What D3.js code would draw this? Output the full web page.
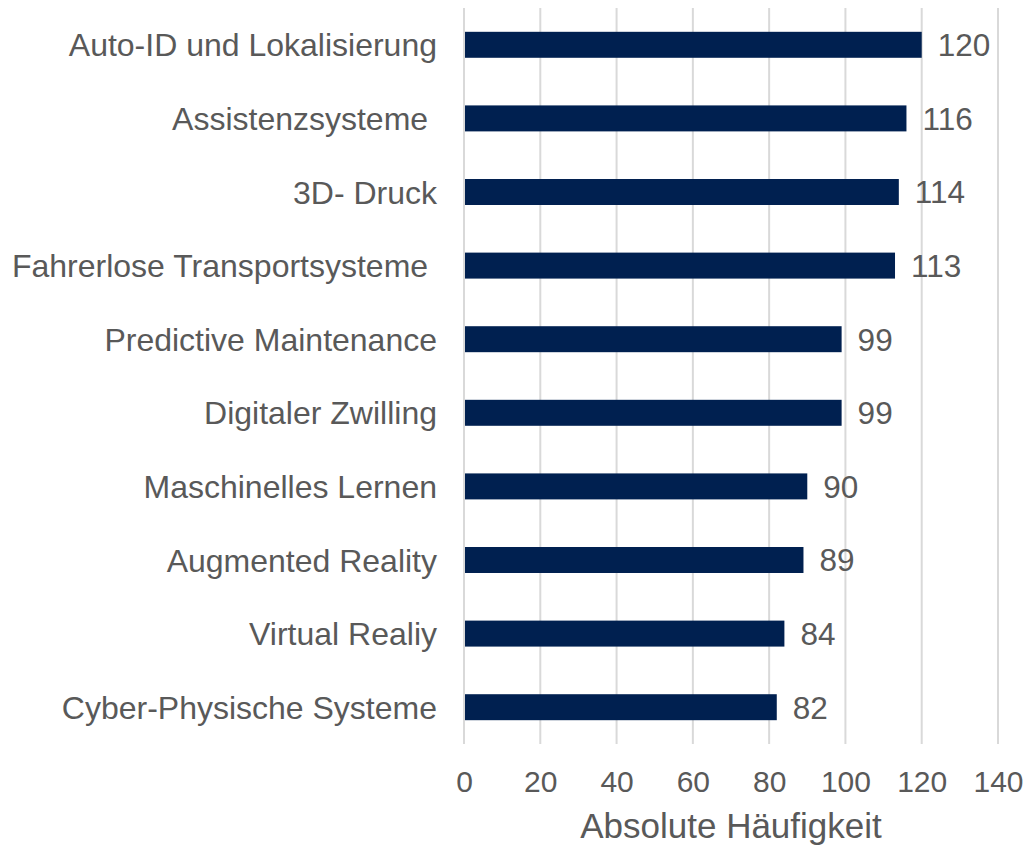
<!DOCTYPE html>
<html>
<head>
<meta charset="utf-8">
<script src="https://cdn.jsdelivr.net/npm/d3@7"></script>
<style>
html,body{margin:0;padding:0;background:#fff;}
svg text{font-family:"Liberation Sans",Arial,sans-serif;fill:#595959;white-space:pre;}
</style>
</head>
<body>
<svg id="chart" width="1028" height="845"></svg>
<script>
const categories = ["Auto-ID und Lokalisierung","Assistenzsysteme ","3D- Druck","Fahrerlose Transportsysteme ","Predictive Maintenance","Digitaler Zwilling","Maschinelles Lernen","Augmented Reality","Virtual Realiy","Cyber-Physische Systeme"];
const values = [120,116,114,113,99,99,90,89,84,82];
const xTicks = [0,20,40,60,80,100,120,140];
const xTitle = "Absolute Häufigkeit";

const svg = d3.select("#chart");
const x = d3.scaleLinear().domain([0,140]).range([464,998]);
const y = d3.scaleBand().domain(categories).range([8,744]).paddingInner(0.647).paddingOuter(0.3235);

// gridlines
svg.append("g").selectAll("line").data(xTicks).join("line")
  .attr("x1",d=>x(d)).attr("x2",d=>x(d)).attr("y1",8).attr("y2",744)
  .attr("stroke","#d9d9d9").attr("stroke-width",2);

// bars
svg.append("g").selectAll("rect").data(values).join("rect")
  .attr("x",x(0)+1).attr("y",(d,i)=>y(categories[i]))
  .attr("width",d=>x(d)-x(0)-1).attr("height",y.bandwidth())
  .attr("fill","#002050");

// value labels
svg.append("g").selectAll("text").data(values).join("text")
  .attr("x",d=>x(d)+16).attr("y",(d,i)=>y(categories[i])+y.bandwidth()/2)
  .attr("dy","0.36em").attr("font-size",31.5).text(d=>d);

// category labels
const yAxis = d3.axisLeft(y).tickSize(0).tickPadding(0);
const gy = svg.append("g").attr("transform","translate(437,0)").call(yAxis);
gy.select(".domain").remove();
gy.selectAll("text").attr("font-size",32).attr("fill","#595959").attr("dy","0.36em")
  .style("font-family","'Liberation Sans',Arial,sans-serif");

// x axis
const xAxis = d3.axisBottom(x).tickValues(xTicks).tickSize(0).tickPadding(0);
const gx = svg.append("g").attr("transform","translate(0,781)").call(xAxis);
gx.select(".domain").remove();
gx.selectAll("text").attr("font-size",30).attr("fill","#595959").attr("dy","0.36em").attr("y",0)
  .style("font-family","'Liberation Sans',Arial,sans-serif");

svg.append("text").attr("x",(x(0)+x(140))/2).attr("y",838).attr("text-anchor","middle")
  .attr("font-size",35).text(xTitle);
</script>
</body>
</html>
